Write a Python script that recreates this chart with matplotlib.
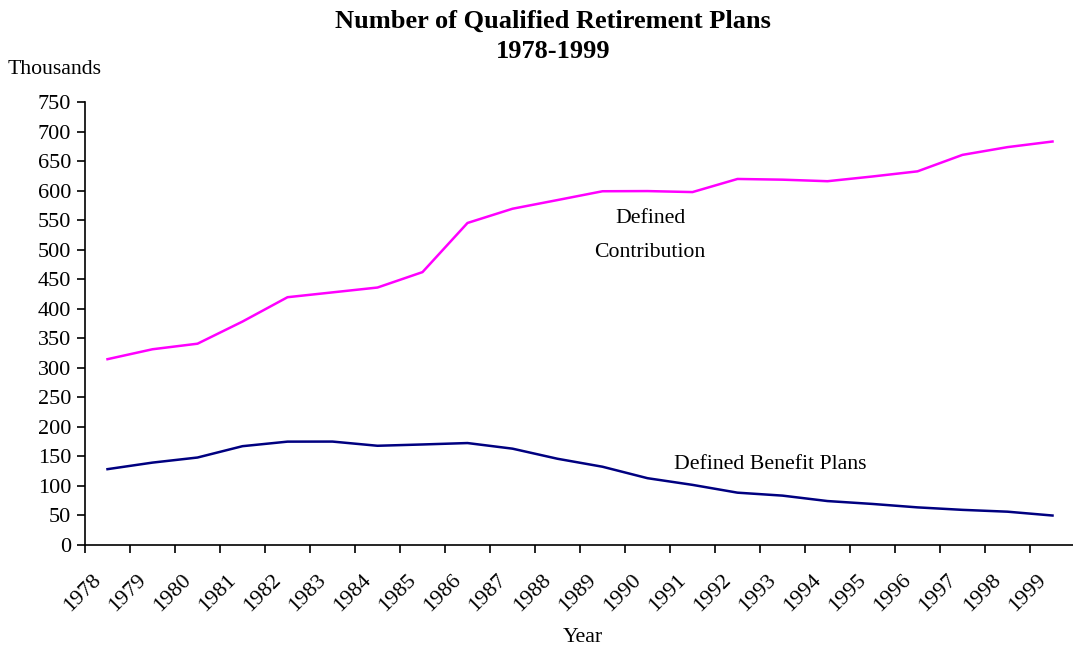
import matplotlib
matplotlib.use("Agg")
import matplotlib.pyplot as plt
import numpy as np
from matplotlib.transforms import offset_copy

years = [str(y) for y in range(1978, 2000)]
defined_contribution = [314.6, 331.4, 340.8, 378.3, 419.5, 427.7, 435.9, 462.0, 545.2, 569.3, 584.0,
                        598.9, 599.2, 597.5, 619.7, 618.5, 615.9, 623.9, 632.6, 660.5, 673.6, 683.1]
defined_benefit = [128.4, 139.5, 148.1, 167.3, 175.0, 175.1, 168.0, 170.2, 172.6, 163.1, 146.0,
                   132.5, 113.1, 101.8, 88.6, 83.6, 74.4, 69.5, 63.7, 59.5, 56.4, 49.9]
yticks = list(range(0, 751, 50))

plt.rcParams['font.family'] = ['Liberation Serif', 'DejaVu Serif']

fig = plt.figure(figsize=(10.73, 6.5), dpi=100)
ax = fig.add_axes([85/1073, 1 - 545/650, 990/1073, (545 - 102)/650])

x = np.arange(len(years))
ax.plot(x, defined_contribution, color='#FF00FF', lw=1.8)
ax.plot(x, defined_benefit, color='#000080', lw=1.8)

ax.set_xlim(-0.5, len(years) - 0.5)
ax.set_ylim(0, 750)
ax.set_yticks(yticks)
ax.set_yticklabels([str(v) for v in yticks], fontsize=16)
ax.set_xticks(np.arange(len(years) + 1) - 0.5)
ax.set_xticklabels([])
ax.tick_params(axis='both', direction='out', length=6, width=1.2, colors='black')
ax.tick_params(axis='y', pad=4)

for i, lab in enumerate(years):
    tr = offset_copy(ax.get_xaxis_transform(), fig=fig, x=-11.5, y=-18.5, units='points')
    ax.text(i, 0, lab, transform=tr, rotation=45, ha='right', va='top',
            rotation_mode='anchor', fontsize=16, clip_on=False)

for s in ['top', 'right']:
    ax.spines[s].set_visible(False)
for s in ['left', 'bottom']:
    ax.spines[s].set_linewidth(1.2)

fig.text(553/1073, 1 - 21/650, 'Number of Qualified Retirement Plans', ha='center', va='center',
         fontsize=19, fontweight='bold')
fig.text(553/1073, 1 - 52/650, '1978-1999', ha='center', va='center',
         fontsize=19, fontweight='bold')
fig.text(8/1073, 1 - 69/650, 'Thousands', ha='left', va='center', fontsize=15.7)
fig.text(583/1073, 1 - 638/650, 'Year', ha='center', va='center', fontsize=15.7)

ax.text(12.06, 552, 'Defined', ha='center', va='center', fontsize=15.7)
ax.text(12.06, 496, 'Contribution', ha='center', va='center', fontsize=15.7)
ax.text(14.72, 137, 'Defined Benefit Plans', ha='center', va='center', fontsize=15.7)

fig.savefig('out.png', dpi=100)
